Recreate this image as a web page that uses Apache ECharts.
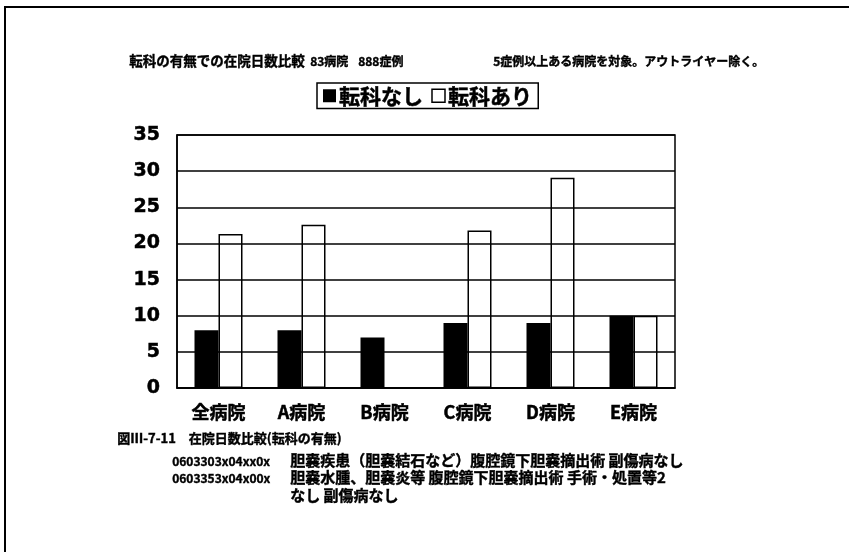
<!DOCTYPE html>
<html lang="ja" style="height: 100%">
<head>
    <meta charset="UTF-8">
    <title>在院日数比較(転科の有無)</title>
    <script src="https://cdn.jsdelivr.net/npm/echarts@6/dist/echarts.min.js"></script>
</head>
<body style="height: 100%; margin: 0">
<div id="main" style="width: 849px; height: 552px"></div>
<script>
    var categories = ['全病院', 'A病院', 'B病院', 'C病院', 'D病院', 'E病院'];
    var tenkaNashi = [8, 8, 7, 9, 9, 10];
    var tenkaAri = [21.3, 22.6, null, 21.8, 29.1, 10];
    var yTicks = [0, 5, 10, 15, 20, 25, 30, 35];

    var jpFont = '"Noto Sans CJK JP", sans-serif';

    // small helper so every text block looks like the heavy scanned print
    function txt(x, y, s, size) {
        return {
            type: 'text', left: x, top: y,
            style: {text: s, font: 'bold ' + size + 'px ' + jpFont, fill: '#000', stroke: '#000', lineWidth: 0.4}
        };
    }

    var myoption = {
        backgroundColor: '#fff',
        animation: false,
        textStyle: {fontFamily: jpFont, color: '#000'},
        graphic: [
            // scan frame (top & left edges only)
            {type: 'line', shape: {x1: 4, y1: 7, x2: 849, y2: 7}, style: {stroke: '#000', lineWidth: 2}},
            {type: 'line', shape: {x1: 5, y1: 6, x2: 5, y2: 552}, style: {stroke: '#000', lineWidth: 2}},
            txt(129, 54, '転科の有無での在院日数比較', 13.5),
            txt(310, 55, '83病院', 12),
            txt(358, 55, '888症例', 12),
            txt(493, 55, '5症例以上ある病院を対象。アウトライヤー除く。', 12),
            txt(117, 431, '図Ⅲ-7-11　在院日数比較(転科の有無)', 13),
            txt(172, 455, '0603303x04xx0x', 12),
            txt(290, 453, '胆嚢疾患（胆嚢結石など）腹腔鏡下胆嚢摘出術 副傷病なし', 15),
            txt(172, 472, '0603353x04x00x', 12),
            txt(290, 470, '胆嚢水腫、胆嚢炎等 腹腔鏡下胆嚢摘出術 手術・処置等2', 15),
            txt(290, 488, 'なし 副傷病なし', 15)
        ],
        legend: {
            left: 317,
            top: 83,
            padding: [2, 6],
            itemGap: 8,
            itemWidth: 13,
            itemHeight: 13,
            icon: 'rect',
            borderColor: '#000',
            borderWidth: 1.5,
            textStyle: {fontSize: 21, fontWeight: 'bold', fontFamily: jpFont, color: '#000',
                textBorderColor: '#000', textBorderWidth: 0.5, padding: [0, 0, 0, -2]},
            data: [
                {name: '転科なし', itemStyle: {color: '#000'}},
                {name: '転科あり', itemStyle: {color: '#fff', borderColor: '#000', borderWidth: 1.5}}
            ]
        },
        grid: {
            left: 177,
            right: 174,
            top: 135,
            bottom: 164,
            show: true,
            borderColor: '#000',
            borderWidth: 1.5
        },
        xAxis: {
            type: 'category',
            data: categories,
            axisLine: {lineStyle: {color: '#000', width: 1.5}},
            axisTick: {inside: true, length: 5, lineStyle: {color: '#000', width: 1.5}},
            axisLabel: {margin: 15, fontSize: 18, fontWeight: 'bold', color: '#000', fontFamily: jpFont,
                textBorderColor: '#000', textBorderWidth: 0.5}
        },
        yAxis: {
            type: 'value',
            min: yTicks[0],
            max: yTicks[yTicks.length - 1],
            interval: 5,
            axisLine: {show: true, lineStyle: {color: '#000', width: 1.5}},
            axisTick: {show: false},
            splitLine: {lineStyle: {color: '#000', width: 1.5}},
            axisLabel: {margin: 17, fontSize: 19, fontWeight: 'bold', color: '#000',
                fontFamily: '"DejaVu Sans", sans-serif', textBorderColor: '#000', textBorderWidth: 0.5}
        },
        series: [{
            name: '転科なし',
            type: 'bar',
            barWidth: 24,
            barGap: '0%',
            itemStyle: {color: '#000'},
            data: tenkaNashi
        }, {
            name: '転科あり',
            type: 'bar',
            barWidth: 24,
            itemStyle: {color: 'rgba(255,255,255,0)', borderColor: '#000', borderWidth: 1.5},
            data: tenkaAri
        }]
    };
    var myChart = echarts.init(document.getElementById('main'));
    myChart.setOption(myoption);
</script>
</body>
</html>
